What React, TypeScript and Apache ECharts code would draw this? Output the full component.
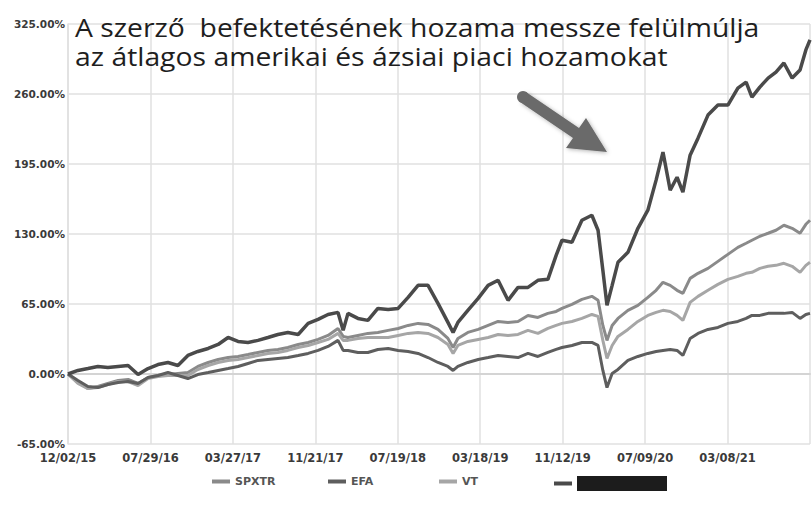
import React, { useEffect, useRef } from "react";
import * as echarts from "echarts";

// days since 12/02/15
const dayOffsets = [
  0, 29, 58, 87, 116, 146, 175, 204, 233, 262, 291, 320, 349, 378, 408, 437, 466, 495, 524, 553,
  582, 611, 640, 670, 699, 728, 757, 786, 801, 815, 844, 873, 902, 932, 961, 990, 1019, 1048, 1077, 1106,
  1121, 1135, 1164, 1194, 1223, 1252, 1281, 1310, 1339, 1368, 1397, 1421, 1438, 1467, 1496, 1525, 1543, 1557, 1569, 1584,
  1601, 1630, 1659, 1688, 1712, 1732, 1753, 1773, 1790, 1811, 1834, 1863, 1892, 1921, 1950, 1974, 1991, 2014, 2038, 2061,
  2084, 2108, 2131, 2148, 2160,
];

const authorReturns = [
  0, 3.3, 5.1, 7.0, 6.0, 7.0, 7.9, -0.5, 5.1, 8.8, 10.7, 7.9, 17.2, 20.9, 23.7, 27.4, 33.9, 30.2, 29.3, 31.2,
  33.9, 36.7, 38.6, 36.7, 47.0, 50.7, 55.3, 57.2, 40.5, 56.3, 51.6, 49.8, 60.9, 60.0, 60.9, 71.1, 82.3, 82.3, 65.6, 47.9,
  38.6, 47.9, 59.1, 70.2, 82.3, 87.0, 68.4, 80.4, 80.4, 87.0, 87.9, 110.2, 124.2, 122.3, 142.8, 147.4, 133.5, 96.3, 63.7, 82.3,
  103.7, 113.0, 135.3, 152.1, 180.0, 206.0, 170.7, 182.7, 168.8, 203.2, 219.0, 240.4, 249.7, 249.7, 265.5, 271.1, 257.1, 266.4, 274.8, 280.4,
  288.8, 274.8, 282.3, 300.9, 310.2,
];

const spxtrReturns = [
  0, -7.9, -13.5, -11.6, -8.8, -6.0, -5.1, -8.8, -3.3, -1.4, -0.5, 0.5, 1.4, 7.0, 10.7, 13.5, 15.3, 16.3, 18.1, 20.0,
  21.9, 22.8, 24.6, 27.4, 29.3, 32.1, 35.8, 42.3, 34.9, 33.9, 35.8, 37.7, 38.6, 40.5, 42.3, 45.1, 47.0, 46.0, 41.4, 33.0,
  24.6, 33.0, 38.6, 41.4, 45.1, 48.8, 47.9, 48.8, 54.4, 52.5, 56.3, 58.1, 60.9, 64.6, 69.3, 72.1, 68.4, 45.1, 31.2, 45.1,
  51.6, 59.1, 63.7, 71.1, 77.7, 85.1, 82.3, 77.7, 74.9, 88.8, 93.5, 98.1, 104.6, 111.1, 117.6, 121.4, 124.2, 127.9, 130.7, 133.5,
  138.1, 135.3, 130.7, 139.0, 142.8,
];

const efaReturns = [
  0, -6.0, -11.6, -12.6, -9.8, -7.9, -7.0, -8.8, -3.3, -1.4, 1.4, -1.4, -4.2, -0.5, 1.4, 3.3, 5.1, 7.0, 9.8, 12.6,
  13.5, 14.4, 15.3, 17.2, 19.1, 21.9, 25.6, 31.2, 21.9, 21.9, 20.0, 20.0, 22.8, 23.7, 21.9, 20.9, 19.1, 15.3, 10.7, 7.0,
  3.3, 7.0, 10.7, 13.5, 15.3, 17.2, 16.3, 15.3, 19.1, 16.3, 20.0, 22.8, 24.6, 26.5, 29.3, 29.3, 26.5, 3.3, -12.6, 0.5,
  4.2, 12.6, 16.3, 19.1, 20.9, 21.9, 22.8, 21.9, 17.2, 33.0, 37.7, 41.4, 43.2, 47.0, 48.8, 51.6, 54.4, 54.4, 56.3, 56.3,
  56.3, 57.2, 51.6, 55.3, 56.3,
];

const vtReturns = [
  0, -8.8, -13.5, -12.6, -9.8, -7.0, -7.0, -10.7, -4.2, -2.3, -1.4, -1.4, -1.4, 4.2, 7.9, 10.7, 12.6, 13.5, 15.3, 17.2,
  19.1, 20.0, 21.9, 24.6, 26.5, 29.3, 32.1, 37.7, 31.2, 31.2, 33.0, 33.9, 33.9, 33.9, 35.8, 37.7, 38.6, 37.7, 33.9, 27.4,
  19.1, 26.5, 30.2, 32.1, 33.9, 36.7, 35.8, 36.7, 40.5, 37.7, 42.3, 45.1, 47.0, 48.8, 51.6, 55.3, 53.5, 31.2, 14.4, 26.5,
  34.9, 41.4, 48.8, 54.4, 57.2, 59.1, 58.1, 54.4, 49.8, 66.5, 72.1, 77.7, 83.2, 87.9, 90.7, 93.5, 94.4, 98.1, 100.0, 100.9,
  102.8, 100.0, 94.4, 100.9, 103.7,
];

const xTickLabels = [
  "12/02/15", "07/29/16", "03/27/17", "11/21/17", "07/19/18", "03/18/19", "11/12/19", "07/09/20", "03/08/21",
];

const seriesNames = ["SPXTR", "EFA", "VT", "Szerző"];
const titleText =
  "A szerző  befektetésének hozama messze felülmúlja\naz átlagos amerikai és ázsiai piaci hozamokat";

const toPairs = (vals: number[]) => vals.map((v, i) => [dayOffsets[i], v]);

export default function App() {
  const ref = useRef<HTMLDivElement>(null);
  useEffect(() => {
    if (!ref.current) return;
    const chart = echarts.init(ref.current, null, { renderer: "svg" });
    const axisFont = { fontFamily: "DejaVu Sans", fontWeight: "bold" as const, color: "#3a3a3a" };
    const legendBase = {
      top: 476,
      padding: 0,
      icon: "rect",
      itemWidth: 18,
      itemHeight: 4,
      itemGap: 5,
      selectedMode: false,
      textStyle: { fontFamily: "DejaVu Sans", fontWeight: "bold" as const, fontSize: 11, color: "#555" },
    };
    chart.setOption({
      animation: false,
      backgroundColor: "#fff",
      grid: { left: 68, right: 2, top: 24, bottom: 72, containLabel: false },
      xAxis: {
        type: "value",
        min: 0,
        max: 2160,
        interval: 240,
        axisLine: { show: true, lineStyle: { color: "#d4d4d4", width: 2 } },
        axisTick: { show: false },
        splitLine: { show: true, lineStyle: { color: "#e0e0e0", width: 1.5 } },
        axisLabel: {
          ...axisFont,
          fontSize: 11.5,
          margin: 8,
          showMaxLabel: false,
          formatter: (v: number) => xTickLabels[Math.round(v / 240)] ?? "",
        },
      },
      yAxis: {
        type: "value",
        min: -65,
        max: 325,
        interval: 65,
        axisLine: { show: true, lineStyle: { color: "#e0e0e0", width: 1.5 } },
        axisTick: { show: false },
        splitLine: { show: true, lineStyle: { color: "#e0e0e0", width: 1.5 } },
        axisLabel: { ...axisFont, fontSize: 10.5, margin: 3, formatter: (v: number) => v.toFixed(2) + "%" },
      },
      legend: [
        { ...legendBase, left: 212, data: [seriesNames[0]] },
        { ...legendBase, left: 328, data: [seriesNames[1]] },
        { ...legendBase, left: 439, data: [seriesNames[2]] },
        {
          ...legendBase,
          left: 554,
          data: [seriesNames[3]],
          formatter: () => "{box| }",
          textStyle: {
            ...legendBase.textStyle,
            rich: { box: { backgroundColor: "#1c1c1c", width: 90, height: 15 } },
          },
        },
      ],
      series: [
        { name: seriesNames[0], type: "line", data: toPairs(spxtrReturns), showSymbol: false, color: "#8a8a8a", lineStyle: { width: 3, color: "#8a8a8a" }, z: 2 },
        { name: seriesNames[1], type: "line", data: toPairs(efaReturns), showSymbol: false, color: "#5e5e5e", lineStyle: { width: 3, color: "#5e5e5e" }, z: 3 },
        { name: seriesNames[2], type: "line", data: toPairs(vtReturns), showSymbol: false, color: "#a6a6a6", lineStyle: { width: 3, color: "#a6a6a6" }, z: 2 },
        { name: seriesNames[3], type: "line", data: toPairs(authorReturns), showSymbol: false, color: "#4a4a4a", lineStyle: { width: 3.5, color: "#4a4a4a" }, z: 4 },
      ],
      graphic: [
        {
          type: "text",
          x: 75,
          y: 12,
          scaleX: 1.09,
          z: 100,
          style: {
            text: titleText,
            fill: "#1e1e1e",
            font: '26px "Open Sans"',
            lineHeight: 29,
            verticalAlign: "top",
          },
        },
        {
          type: "polygon",
          z: 100,
          shape: {
            points: [
              [526, 92], [579, 128], [586, 118], [607, 152], [566, 148], [573, 138], [520, 102],
            ],
          },
          style: { fill: "#6a6a6a", shadowBlur: 4, shadowColor: "rgba(0,0,0,0.3)", shadowOffsetX: 1, shadowOffsetY: 1 },
        },
        {
          type: "circle",
          z: 100,
          shape: { cx: 523, cy: 97, r: 6 },
          style: { fill: "#6a6a6a" },
        },
      ],
    });
    return () => chart.dispose();
  }, []);
  return <div ref={ref} style={{ width: 812, height: 516, position: "absolute", left: 0, top: 0 }} />;
}
